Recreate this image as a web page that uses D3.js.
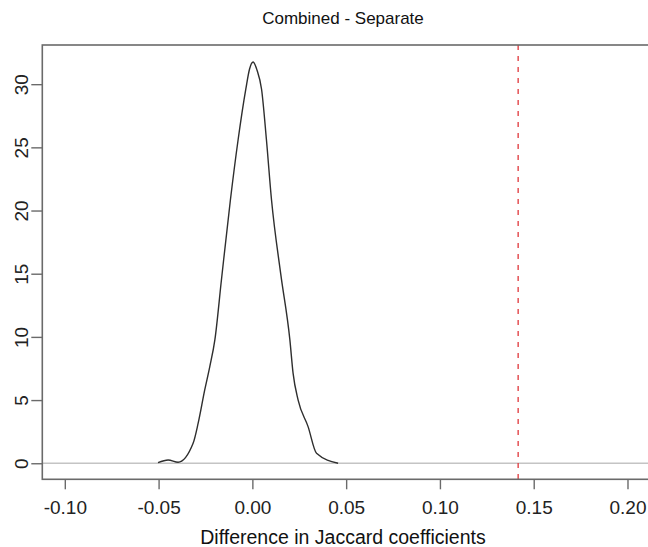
<!DOCTYPE html>
<html>
<head>
<meta charset="utf-8">
<script src="https://cdn.jsdelivr.net/npm/d3@7"></script>
<style>
  body { margin: 0; background: #fff; }
  text { font-family: "Liberation Sans", Arial, sans-serif; }
</style>
</head>
<body>
<div id="wrapper"></div>
<script>
// density estimate
var diffX = [-0.0503, -0.0449, -0.0396, -0.0316, -0.0289, -0.0254, -0.0227, -0.0200, -0.0165, -0.0117,
             -0.0076, -0.0035, -0.0015, 0.0004, 0.0025, 0.0049, 0.0075, 0.0102, 0.0151, 0.0200,
             0.0217, 0.0244, 0.0297, 0.0342, 0.0457];
var density = [0.05, 0.26, 0.08, 1.58, 3.17, 5.80, 7.65, 9.76, 14.5, 20.85,
               25.6, 29.6, 31.2, 31.75, 31.1, 29.6, 25.6, 20.85, 15.0, 9.76,
               7.13, 4.99, 2.90, 0.79, 0.0];
var observed = [0.1417];
var xTicks = [-0.10, -0.05, 0.00, 0.05, 0.10, 0.15, 0.20];
var yTicks = [0, 5, 10, 15, 20, 25, 30];

var width = 648, height = 547;
var svg = d3.select('#wrapper')
            .append('svg')
            .attr('width', width)
            .attr('height', height);

var x = d3.scaleLinear().domain([-0.112, 0.212]).range([42.3, 650]);
var y = d3.scaleLinear().domain([-1.27, 33.1]).range([479.3, 45]);

// zero reference line
svg.append('line')
   .attr('x1', x(-0.112)).attr('x2', x(0.212))
   .attr('y1', y(0)).attr('y2', y(0))
   .attr('stroke', '#c4c4c4')
   .attr('stroke-width', 1.6);

// observed difference
svg.selectAll('line.obs')
   .data(observed)
   .enter()
   .append('line')
   .attr('class', 'obs')
   .attr('x1', function(d) { return x(d); })
   .attr('x2', function(d) { return x(d); })
   .attr('y1', y(33.1)).attr('y2', y(-1.27))
   .attr('stroke', '#e0363a')
   .attr('stroke-width', 1.3)
   .attr('stroke-dasharray', '5,6');

// density curve
var pts = diffX.map(function(d, i) { return [d, density[i]]; });
var line = d3.line()
             .x(function(d) { return x(d[0]); })
             .y(function(d) { return y(d[1]); })
             .curve(d3.curveMonotoneX);
svg.append('path')
   .datum(pts)
   .attr('d', line)
   .attr('fill', 'none')
   .attr('stroke', '#2e2e2e')
   .attr('stroke-width', 1.4);

// box
svg.append('rect')
   .attr('x', x(-0.112)).attr('y', y(33.1))
   .attr('width', x(0.212) - x(-0.112))
   .attr('height', y(-1.27) - y(33.1))
   .attr('fill', 'none')
   .attr('stroke', '#6a6a6a')
   .attr('stroke-width', 1.6);

// axes
var xAxis = d3.axisBottom(x)
              .tickValues(xTicks)
              .tickSize(10)
              .tickPadding(11)
              .tickFormat(d3.format('.2f'));
var gx = svg.append('g')
            .attr('transform', 'translate(0,' + y(-1.27) + ')')
            .call(xAxis);
gx.select('.domain').remove();
gx.selectAll('.tick line').attr('stroke', '#6a6a6a').attr('stroke-width', 1.4);
gx.selectAll('.tick text')
  .attr('fill', '#222')
  .style('font-size', '19px')
  .text(function(d) { return d3.format('.2f')(d).replace('−', '-'); });

var yAxis = d3.axisLeft(y)
              .tickValues(yTicks)
              .tickSize(11)
              .tickFormat(d3.format('d'));
var gy = svg.append('g')
            .attr('transform', 'translate(' + x(-0.112) + ',0)')
            .call(yAxis);
gy.select('.domain').remove();
gy.selectAll('.tick line').attr('stroke', '#6a6a6a').attr('stroke-width', 1.4);
gy.selectAll('.tick text')
  .attr('fill', '#222')
  .style('font-size', '19px')
  .attr('x', 0).attr('dy', null)
  .attr('text-anchor', 'middle')
  .attr('transform', 'translate(-14,0) rotate(-90)');

// titles
svg.append('text')
   .attr('x', 343).attr('y', 24)
   .attr('text-anchor', 'middle')
   .attr('fill', '#111')
   .style('font-size', '17px')
   .text('Combined - Separate');

svg.append('text')
   .attr('x', 343).attr('y', 544)
   .attr('text-anchor', 'middle')
   .attr('fill', '#111')
   .style('font-size', '19.5px')
   .text('Difference in Jaccard coefficients');
</script>
</body>
</html>
